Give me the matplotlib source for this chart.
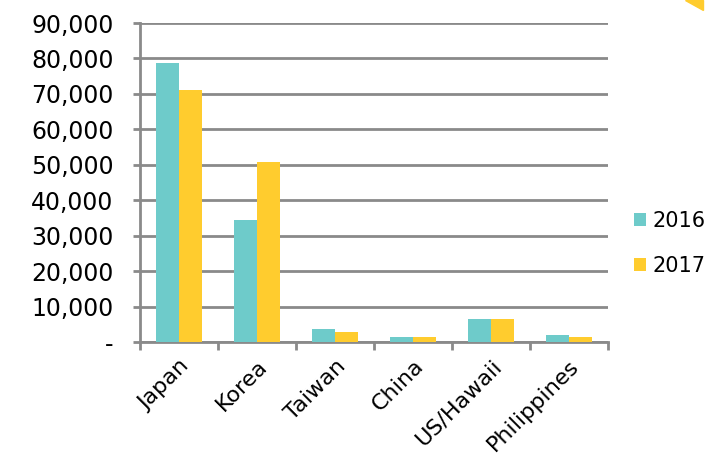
import matplotlib
matplotlib.use("Agg")
import matplotlib.pyplot as plt
import numpy as np
from matplotlib.patches import Polygon

countries = ["Japan", "Korea", "Taiwan", "China", "US/Hawaii", "Philippines"]
v2016 = [78800, 34400, 3600, 1300, 6600, 2000]
v2017 = [71200, 50800, 2800, 1300, 6600, 1300]
yticks = [0, 10000, 20000, 30000, 40000, 50000, 60000, 70000, 80000, 90000]
ylabels = ["-", "10,000", "20,000", "30,000", "40,000", "50,000", "60,000", "70,000", "80,000", "90,000"]

plt.rcParams['font.family'] = ['DejaVu Sans']

fig = plt.figure(figsize=(7.2, 4.62), dpi=100)
ax = fig.add_axes([140/720, 1-342/462, 468/720, 319/462])

x = np.arange(len(countries))
w = 0.3
ax.bar(x - w/2, v2016, w, color="#6ECBCA", label="2016", zorder=3)
ax.bar(x + w/2, v2017, w, color="#FFCC2E", label="2017", zorder=3)

ax.set_xlim(-0.5, len(countries) - 0.5)
ax.set_ylim(0, 90000)
ax.set_yticks(yticks)
ax.set_yticklabels(ylabels, fontsize=17)
ax.yaxis.grid(True, color="#8a8a8a", linewidth=2, zorder=0)
ax.tick_params(axis='y', length=5, width=2, color="#8a8a8a", pad=14)

ax.set_xticks(x)
ax.set_xticklabels(countries, fontsize=16, rotation=45, ha="right", rotation_mode="anchor")
ax.tick_params(axis='x', length=0, pad=10)
ax.set_xticks(np.arange(len(countries) + 1) - 0.5, minor=True)
ax.tick_params(axis='x', which='minor', length=6, width=2, color="#8a8a8a")

for s in ["top", "right"]:
    ax.spines[s].set_visible(False)
for s in ["left", "bottom"]:
    ax.spines[s].set_color("#8a8a8a")
    ax.spines[s].set_linewidth(2)

ax.legend(loc="center left", bbox_to_anchor=(1.015, 0.31), frameon=False, fontsize=15,
          handlelength=0.6, handleheight=0.6, handletextpad=0.3, labelspacing=1.2)

# yellow corner mark
fig.patches.append(Polygon([[685/720, 1.0], [703/720, 1.0], [703/720, 1-10/462]],
                           closed=True, transform=fig.transFigure, color="#FFCC2E"))

fig.savefig("out.png", dpi=100)
